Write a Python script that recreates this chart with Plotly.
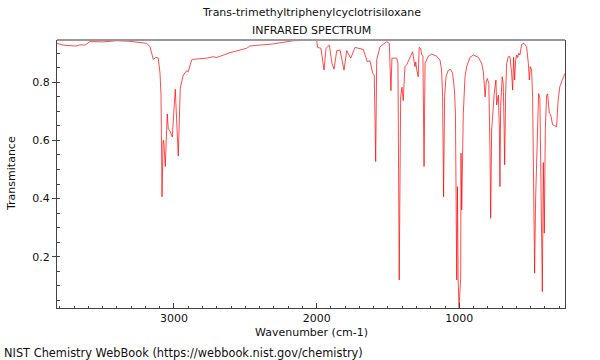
import plotly.graph_objects as go

title_line1 = "Trans-trimethyltriphenylcyclotrisiloxane"
title_line2 = "INFRARED SPECTRUM"
x_title = "Wavenumber (cm-1)"
y_title = "Transmitance"
footer = "NIST Chemistry WebBook (https://webbook.nist.gov/chemistry)"

x_tick_vals = [3000, 2000, 1000]
y_tick_vals = [0.2, 0.4, 0.6, 0.8]
y_tick_text = ["0.2", "0.4", "0.6", "0.8"]

wavenumber = [
    3822, 3776, 3700, 3682, 3659, 3624, 3589, 3496, 3402, 3308, 3191, 3168, 3145, 3126, 3110,
    3098, 3091, 3084, 3076, 3072, 3061, 3047, 3040, 3028, 3012, 2991, 2970, 2956, 2935, 2911,
    2900, 2876, 2865, 2771, 2724, 2701, 2607, 2537, 2490, 2467, 2304, 2164, 2005, 2000, 1993,
    1970, 1948, 1934, 1911, 1892, 1878, 1859, 1836, 1808, 1789, 1761, 1731, 1673, 1645, 1626,
    1607, 1596, 1586, 1579, 1556, 1509, 1491, 1479, 1472, 1439, 1430, 1421, 1411, 1402, 1393,
    1381, 1369, 1341, 1327, 1311, 1305, 1299, 1288, 1281, 1272, 1262, 1255, 1247, 1240, 1217,
    1194, 1159, 1135, 1124, 1117, 1110, 1103, 1093, 1077, 1060, 1046, 1034, 1027, 1018, 1013,
    1008, 1002, 995, 990, 988, 983, 972, 960, 948, 925, 901, 866, 843, 831, 819,
    812, 803, 793, 785, 780, 773, 762, 755, 743, 738, 726, 719, 715, 710, 699,
    692, 686, 682, 675, 668, 657, 645, 633, 626, 619, 612, 605, 598, 591, 584,
    575, 563, 547, 528, 516, 509, 502, 493, 486, 476, 472, 465, 454, 444, 435,
    425, 418, 411, 404, 397, 388, 381, 369, 360, 346, 330, 318, 307, 295, 278,
    260,
]

transmittance = [
    0.934, 0.928, 0.925, 0.925, 0.929, 0.928, 0.940, 0.939, 0.943, 0.941, 0.934, 0.922, 0.879, 0.886, 0.883,
    0.831, 0.756, 0.406, 0.600, 0.600, 0.510, 0.691, 0.640, 0.632, 0.612, 0.776, 0.546, 0.780, 0.825, 0.840,
    0.836, 0.877, 0.879, 0.883, 0.888, 0.885, 0.902, 0.911, 0.917, 0.925, 0.932, 0.943, 0.945, 0.945, 0.920,
    0.917, 0.842, 0.917, 0.928, 0.865, 0.845, 0.909, 0.911, 0.842, 0.909, 0.883, 0.920, 0.913, 0.871, 0.874,
    0.831, 0.825, 0.527, 0.877, 0.922, 0.940, 0.934, 0.771, 0.883, 0.883, 0.865, 0.120, 0.750, 0.783, 0.737,
    0.854, 0.860, 0.894, 0.905, 0.854, 0.870, 0.845, 0.819, 0.920, 0.917, 0.894, 0.890, 0.510, 0.865, 0.890,
    0.897, 0.890, 0.876, 0.842, 0.750, 0.406, 0.750, 0.819, 0.842, 0.844, 0.830, 0.773, 0.692, 0.120, 0.441,
    0.120, 0.025, 0.086, 0.126, 0.556, 0.361, 0.692, 0.819, 0.854, 0.886, 0.894, 0.886, 0.865, 0.836, 0.750,
    0.801, 0.813, 0.796, 0.578, 0.332, 0.636, 0.722, 0.762, 0.808, 0.722, 0.756, 0.636, 0.441, 0.720, 0.819,
    0.796, 0.650, 0.516, 0.760, 0.865, 0.888, 0.888, 0.831, 0.773, 0.886, 0.808, 0.876, 0.894, 0.885, 0.900,
    0.894, 0.930, 0.934, 0.922, 0.865, 0.808, 0.854, 0.842, 0.750, 0.406, 0.143, 0.400, 0.578, 0.761, 0.745,
    0.400, 0.080, 0.524, 0.281, 0.635, 0.756, 0.760, 0.694, 0.690, 0.654, 0.650, 0.647, 0.739, 0.785, 0.808,
    0.830,
]

W, H = 600, 360
L, R, T, B = 57, 35, 40, 52
PW, PH = W - L - R, H - T - B


def px(x):
    return (x - L) / PW


def py(y):
    return (H - B - y) / PH


font = dict(family="DejaVu Sans", size=11, color="#111111")
small_font = dict(family="DejaVu Sans", size=11.4, color="#111111")
axis_color = "#444444"

fig = go.Figure()
fig.add_trace(go.Scatter(
    x=wavenumber, y=transmittance, mode="lines",
    line=dict(color="rgba(255,0,0,0.7)", width=1),
    showlegend=False, hoverinfo="skip",
))

fig.update_layout(
    width=W, height=H,
    margin=dict(l=L, r=R, t=T, b=B, pad=0),
    paper_bgcolor="white", plot_bgcolor="white",
    font=font,
    showlegend=False,
    xaxis=dict(
        range=[3820, 259], showgrid=False, zeroline=False,
        showline=True, linecolor=axis_color, linewidth=1,
        tickvals=x_tick_vals, ticks="inside", ticklen=5, tickcolor=axis_color,
        tickfont=font,
        minor=dict(dtick=100, tick0=0, ticks="inside", ticklen=2, tickcolor=axis_color),
    ),
    yaxis=dict(
        range=[0.0235, 0.9455], showgrid=False, zeroline=False,
        showline=True, linecolor=axis_color, linewidth=1, mirror=True,
        tickvals=y_tick_vals, ticktext=y_tick_text,
        ticks="outside", ticklen=4, tickcolor=axis_color,
        tickfont=font,
        minor=dict(dtick=0.05, tick0=0, ticks="inside", ticklen=3, tickcolor=axis_color),
    ),
    shapes=[dict(type="line", xref="paper", yref="paper", x0=0, x1=1, y0=1, y1=1,
                 line=dict(color="#999999", width=2))],
    annotations=[
        dict(text=title_line1, xref="paper", yref="paper", x=px(311), y=py(13),
             xanchor="center", yanchor="middle", showarrow=False, font=font),
        dict(text=title_line2, xref="paper", yref="paper", x=px(311), y=py(30),
             xanchor="center", yanchor="middle", showarrow=False, font=font),
        dict(text=x_title, xref="paper", yref="paper", x=px(311), y=py(332),
             xanchor="center", yanchor="middle", showarrow=False, font=font),
        dict(text=y_title, xref="paper", yref="paper", x=px(11), y=py(174),
             xanchor="center", yanchor="middle", showarrow=False, font=font, textangle=-90),
        dict(text=footer, xref="paper", yref="paper", x=px(2), y=py(353),
             xanchor="left", yanchor="middle", showarrow=False, font=small_font),
    ],
)

fig.write_html(
    "out.html",
    config={"displayModeBar": False},
    post_script="document.body.style.margin='0';document.body.style.padding='0';",
)
